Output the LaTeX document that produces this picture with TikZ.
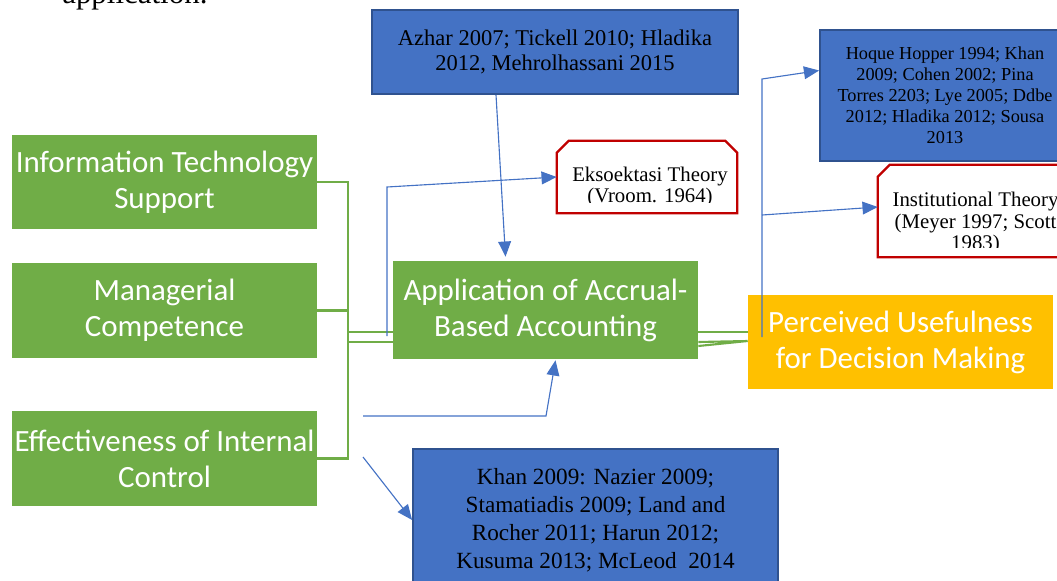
\documentclass[tikz,border=0pt]{standalone}
\usepackage{fontspec}
\setmainfont{Liberation Serif}
\newfontfamily\boxfont{Carlito}
\usetikzlibrary{fit}
\usetikzlibrary{calc}
\usetikzlibrary{arrows.meta}
\usetikzlibrary{positioning}
\definecolor{factorgreen}{HTML}{70AD47}
\definecolor{litblue}{HTML}{4472C4}
\definecolor{litedge}{HTML}{2F528F}
\definecolor{outcomegold}{HTML}{FFC000}
\definecolor{theoryred}{HTML}{C00000}
\tikzstyle{factor}=[fill=factorgreen, text=white, inner sep=0, align=center, minimum width=7.625cm, font=\boxfont\fontsize{22}{25.5}\selectfont]
\tikzstyle{outcome}=[factor, fill=outcomegold]
\tikzstyle{literature}=[fill=litblue, draw=litedge, line width=1.2pt, inner sep=0, align=center]
\tikzstyle{theory}=[inner sep=0]
\tikzstyle{theory edge}=[draw=theoryred, line width=1.6pt, fill=white, line join=miter]
\tikzstyle{theory text}=[inner sep=0, align=center, font=\fontsize{14.8}{15.6}\selectfont]
\tikzstyle{bracket}=[draw=factorgreen, line width=1.5pt]
\tikzstyle{link}=[draw=litblue, line width=0.8pt, -{Triangle[length=0.38cm, width=0.32cm]}]

\begin{document}
\begin{tikzpicture}[x=0.025cm, y=-0.025cm]
  \clip (0,0) rectangle (1057,580);
  % tail of the body text above the figure
  \node[anchor=base west, inner sep=0, font=\fontsize{22}{26}\selectfont] (caption) at (62,3) {application.};
  \fill[red] (477,12) circle (1.5pt);

  \node[factor, minimum height=2.35cm] (it) at (164.5,182) {Information Technology\\Support};
  \node[factor, minimum height=2.375cm] (mgr) at (164.5,310.5) {Managerial\\Competence};
  \node[factor, minimum height=2.375cm] (ctrl) at (164.5,458.5) {Effectiveness of Internal\\Control};
  \node[factor, minimum height=2.45cm] (acc) at (545.5,310) {Application of Accrual-\\Based Accounting};
  \node[outcome, minimum height=2.35cm] (use) at (900.5,342) {Perceived Usefulness\\for Decision Making};

  \node[literature, minimum width=9.15cm, minimum height=2.1cm, font=\fontsize{16}{18}\selectfont] (azhar) at (555,52)
    {Azhar 2007; Tickell 2010; Hladika\\2012, Mehrolhassani 2015};
  \node[literature, minimum width=6.25cm, minimum height=3.275cm, font=\fontsize{13}{15}\selectfont] (hoque) at (945,95.5)
    {Hoque Hopper 1994; Khan\\2009; Cohen 2002; Pina\\Torres 2203; Lye 2005; Ddbe\\2012; Hladika 2012; Sousa\\2013};
  \node[literature, minimum width=9.125cm, minimum height=3.55cm, font=\fontsize{16.5}{20}\selectfont] (khan) at (595.5,520)
    {Khan 2009: Nazier 2009;\\Stamatiadis 2009; Land and\\Rocher 2011; Harun 2012;\\Kusuma 2013; McLeod\ \ 2014};

  % theory boxes, text cut off at the bottom
  \node[theory, fit={(557,141) (737,213)}] (ekso) {};
  \draw[theory edge] (ekso.south west) -- ($(ekso.north west)+(0,12)$) -- ($(ekso.north west)+(12,0)$)
    -- ($(ekso.north east)+(-12,0)$) -- ($(ekso.north east)+(0,12)$) -- (ekso.south east) -- cycle;
  \begin{scope}
    \clip ($(ekso.south west)+(0,-11)$) rectangle (ekso.north east);
    \node[theory text] (ekso text) at ($(ekso.center)+(3,10)$) {Eksoektasi Theory\\(Vroom. 1964)};
  \end{scope}

  \node[theory, fit={(878,165) (1073,257)}] (inst) {};
  \draw[theory edge] (inst.south west) -- ($(inst.north west)+(0,12)$) -- ($(inst.north west)+(12,0)$)
    -- ($(inst.north east)+(-12,0)$) -- ($(inst.north east)+(0,12)$) -- (inst.south east) -- cycle;
  \begin{scope}
    \clip ($(inst.south west)+(0,-10)$) rectangle (inst.north east);
    \node[theory text] (inst text) at ($(inst.center)+(0,12)$) {Institutional Theory\\(Meyer 1997; Scott\\1983)};
  \end{scope}

  % green bracket joining the three factors
  \coordinate (bus) at (348,0);
  \coordinate (in1) at (348,332);
  \coordinate (in2) at (348,342);
  \draw[bracket] (it.east) -| (bus |- ctrl.east) -- (ctrl.east);
  \draw[bracket] (mgr.east) -- (mgr.east -| bus);
  \draw[bracket] (in1) -- (in1 -| acc.west);
  \draw[bracket] (in2) -- (in2 -| acc.west);
  \draw[bracket] (in1 -| acc.east) -- (in1 -| use.west);
  \draw[bracket] (in2 -| acc.east) -- ($(use.west)+(0,-1)$) -- ($(acc.east)+(0,36)$);

  % blue references
  \coordinate (ekso foot) at (387,336);
  \coordinate (ekso bend) at (387,187);
  \coordinate (low start) at (363,416);
  \coordinate (low bend) at (546,416);
  \coordinate (diag start) at (363,457);
  \coordinate (use foot) at (762,337);
  \coordinate (use bend) at (762,79);
  \coordinate (use branch) at (762,215);
  \draw[link] (ekso foot) -- (ekso bend) -- (ekso.west);
  \draw[link] ($(azhar.south)+(-59,0)$) -- ($(acc.north)+(-40,-4)$);
  \draw[link] (low start) -- (low bend) -- ($(acc.south)+(10,1)$);
  \draw[link] (diag start) -- (khan.west);
  \draw[link] (use foot) -- (use bend) -- ($(hoque.west)+(0,-25)$);
  \draw[link] (use branch) -- ($(inst.west)+(0,-4)$);
\end{tikzpicture}
\end{document}
